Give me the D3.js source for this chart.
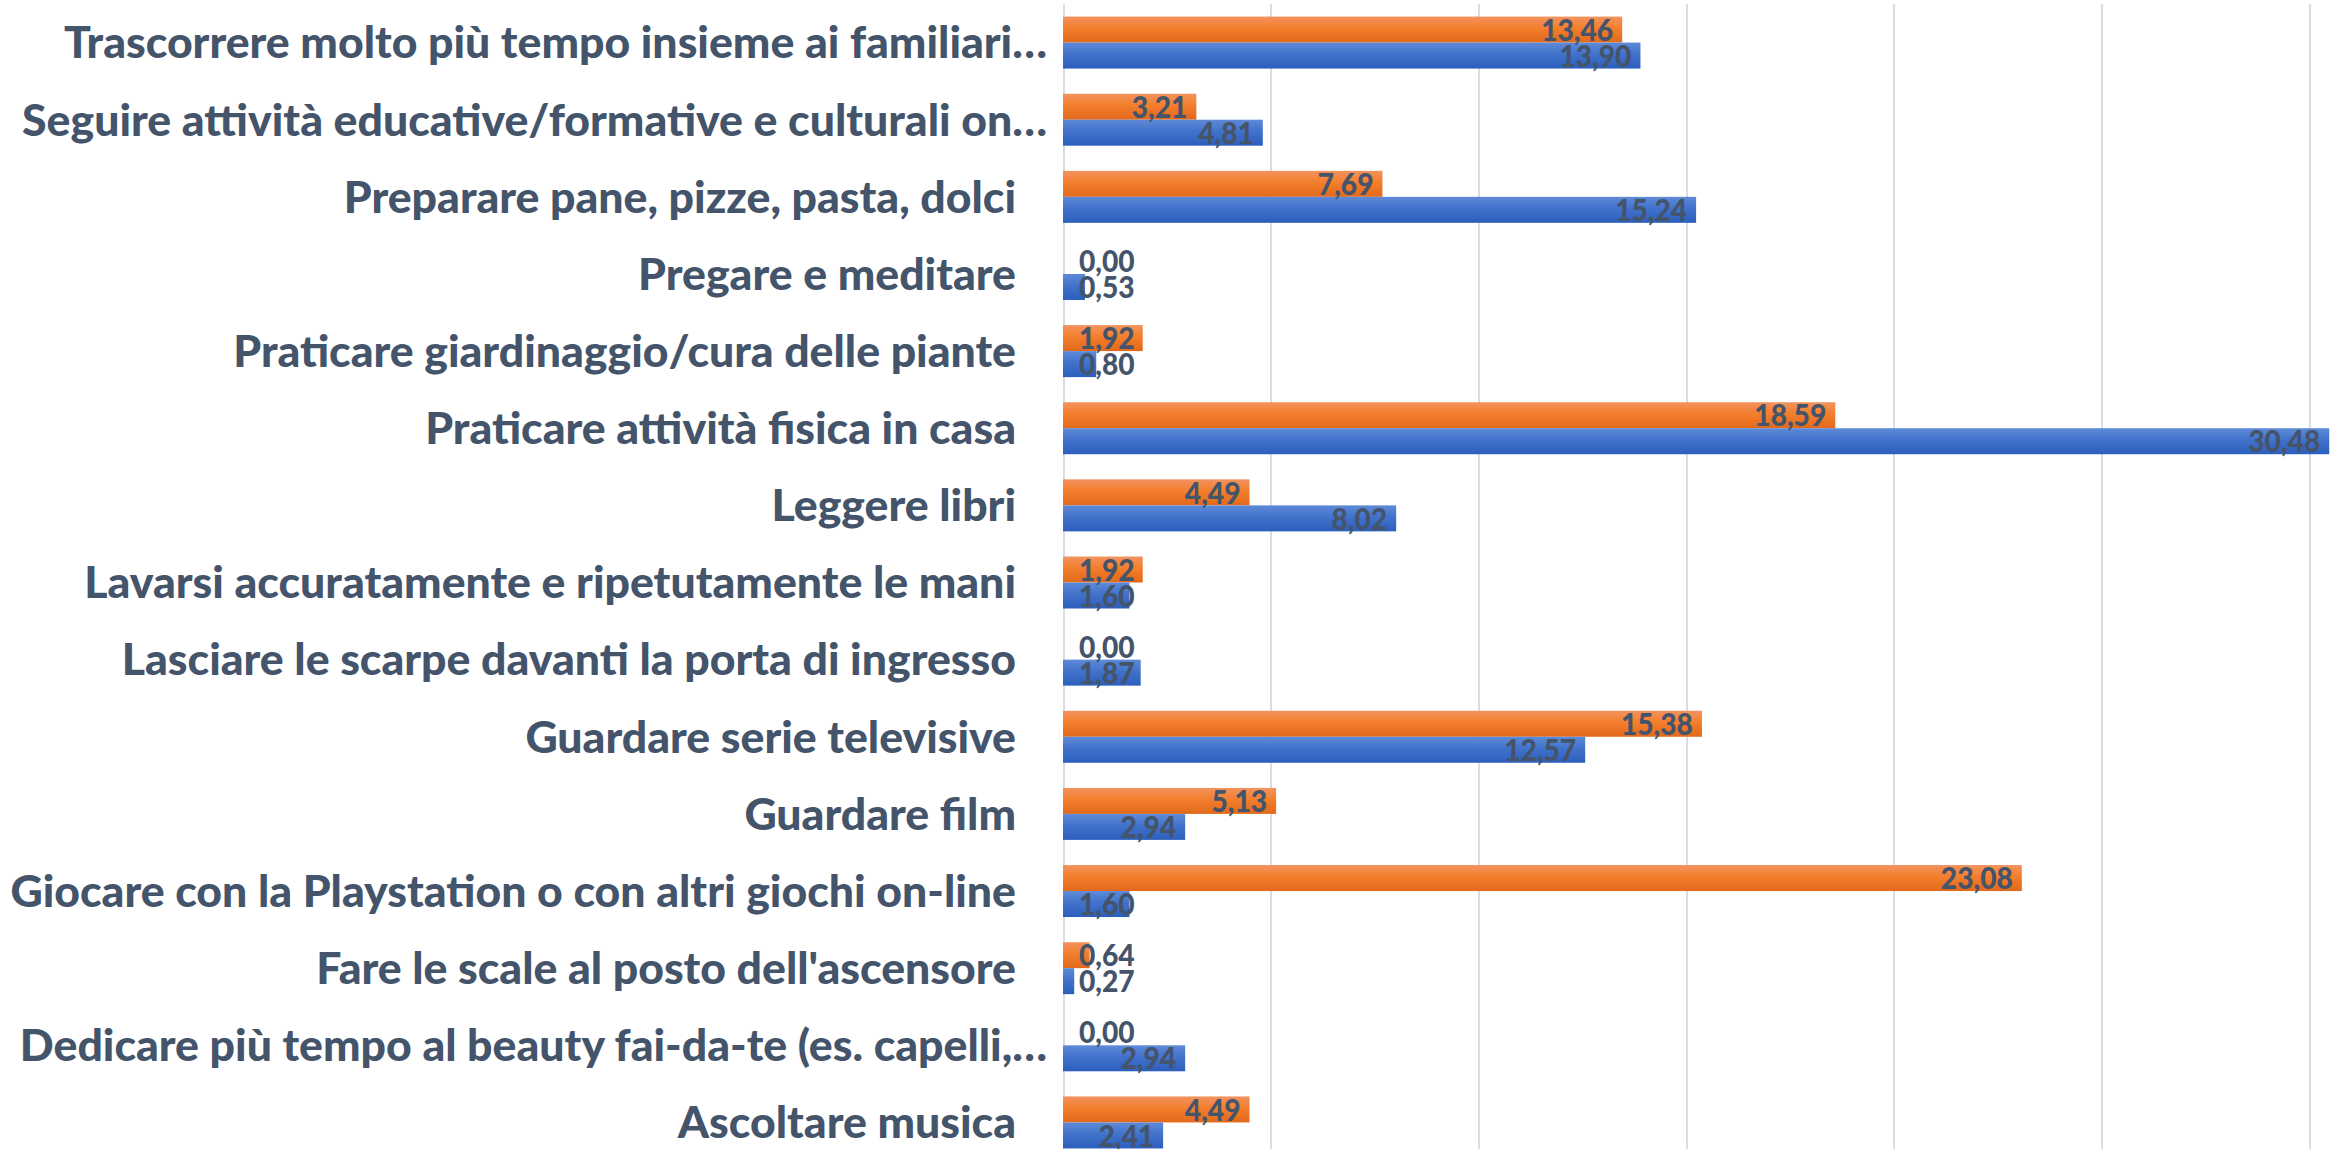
<!DOCTYPE html>
<html>
<head>
<meta charset="utf-8">
<title>Attività in casa</title>
<script src="https://cdnjs.cloudflare.com/ajax/libs/d3/7.8.5/d3.min.js"></script>
<style>
    html, body { margin: 0; padding: 0; background: #ffffff; }
    svg { display: block; }
    .cat, .val {
        font-family: Lato, "Open Sans", sans-serif;
        font-weight: 900;
        fill: #44546A;
    }
    .grid line { stroke: #D9DEE6; stroke-width: 2; shape-rendering: crispEdges; }
    .grid path { display: none; }
</style>
</head>
<body>
<div id="chart"></div>
<script>

// Categories, top to bottom as they appear in the chart
var categories = [
    "Trascorrere molto più tempo insieme ai familiari…",
    "Seguire attività educative/formative e culturali on…",
    "Preparare pane, pizze, pasta, dolci",
    "Pregare e meditare",
    "Praticare giardinaggio/cura delle piante",
    "Praticare attività fisica in casa",
    "Leggere libri",
    "Lavarsi accuratamente e ripetutamente le mani",
    "Lasciare le scarpe davanti la porta di ingresso",
    "Guardare serie televisive",
    "Guardare film",
    "Giocare con la Playstation o con altri giochi on-line",
    "Fare le scale al posto dell'ascensore",
    "Dedicare più tempo al beauty fai-da-te (es. capelli,…",
    "Ascoltare musica"
];

// Orange series (upper bar of each pair)
var orangeValues = [13.46, 3.21, 7.69, 0.00, 1.92, 18.59, 4.49, 1.92, 0.00, 15.38, 5.13, 23.08, 0.64, 0.00, 4.49];

// Blue series (lower bar of each pair)
var blueValues = [13.90, 4.81, 15.24, 0.53, 0.80, 30.48, 8.02, 1.60, 1.87, 12.57, 2.94, 1.60, 0.27, 2.94, 2.41];

var seriesKeys = ["orange", "blue"];

// Value axis gridlines (the plot runs past the right edge of the picture)
var xTicks = [0, 5, 10, 15, 20, 25, 30, 35];

(function(d3) {

    var W = 2341, H = 1149;
    var margin = {top: 4, left: 1063};
    var plotW = 1454,   // 35 units
        plotH = 1157;   // bottom is cut off, like the original

    var itFormat = d3.formatLocale({decimal: ",", thousands: ".", grouping: [3], currency: ["", "€"]}).format(".2f");

    var svg = d3.select("#chart")
        .append("svg")
            .attr("width", W)
            .attr("height", H);

    /**
     * Gradients like the Excel fills.
     */
    var defs = svg.append("defs");
    var grads = {
        orange: [["0%", "#F3935F"], ["45%", "#F37E2C"], ["100%", "#E2691B"]],
        blue: [["0%", "#5E8AD7"], ["45%", "#4172CB"], ["100%", "#2C5EBD"]]
    };
    seriesKeys.forEach(function(k) {
        var g = defs.append("linearGradient")
            .attr("id", "grad-" + k)
            .attr("x1", 0).attr("y1", 0).attr("x2", 0).attr("y2", 1);
        grads[k].forEach(function(s) {
            g.append("stop").attr("offset", s[0]).attr("stop-color", s[1]);
        });
    });

    // Scales
    var x = d3.scaleLinear().domain([0, 35]).range([margin.left, margin.left + plotW]);
    var y0 = d3.scaleBand().domain(categories)
        .range([margin.top, margin.top + plotH])
        .paddingInner(0.326).paddingOuter(0.163);
    var y1 = d3.scaleBand().domain(seriesKeys).range([0, y0.bandwidth()]);

    // Gridlines
    svg.append("g")
        .attr("class", "grid")
        .attr("transform", "translate(0," + (margin.top + plotH) + ")")
        .call(d3.axisBottom(x).tickValues(xTicks).tickSize(-plotH).tickFormat(""));

    /**
     * The fonts here are wider than Calibri, so squeeze text horizontally.
     */
    function squeeze(sample, size, target) {
        var t = svg.append("text").attr("class", "cat").style("font-size", size + "px").text(sample);
        var w = t.node().getComputedTextLength();
        t.remove();
        return target / w;
    }
    var catSize = 44, valSize = 31;
    var kCat = squeeze("Giocare con la Playstation o con altri giochi on-line", catSize, 1006);
    var kVal = squeeze("30,48", valSize, 72);

    var rows = categories.map(function(c, i) {
        return {cat: c, values: [
            {key: "orange", v: orangeValues[i]},
            {key: "blue", v: blueValues[i]}
        ]};
    });

    var groups = svg.selectAll(".row")
        .data(rows)
        .enter().append("g")
            .attr("class", "row")
            .attr("transform", function(d) { return "translate(0," + y0(d.cat) + ")"; });

    // Bars
    groups.selectAll("rect")
        .data(function(d) { return d.values; })
        .enter().append("rect")
            .attr("x", x(0))
            .attr("y", function(d) { return y1(d.key); })
            .attr("width", function(d) { return x(d.v) - x(0); })
            .attr("height", y1.bandwidth())
            .attr("fill", function(d) { return "url(#grad-" + d.key + ")"; });

    // Data labels, inside end; pushed right when the bar is too short
    groups.selectAll(".val")
        .data(function(d) { return d.values; })
        .enter().append("text")
            .attr("class", "val")
            .style("font-size", valSize + "px")
            .attr("text-anchor", "end")
            .attr("dy", "0.36em")
            .text(function(d) { return itFormat(d.v); })
            .attr("transform", function(d) {
                var w = this.getComputedTextLength() * kVal;
                var right = Math.max(x(d.v) - 9, x(0) + 16 + w);
                var cy = y1(d.key) + y1.bandwidth() / 2;
                return "translate(" + right + "," + cy + ") scale(" + kVal + ",1)";
            });

    // Category labels
    groups.append("text")
        .attr("class", "cat")
        .style("font-size", catSize + "px")
        .attr("text-anchor", "end")
        .attr("dy", "0.36em")
        .text(function(d) { return d.cat; })
        .attr("transform", function(d) {
            var cut = d.cat.slice(-1) === "…";
            var right = x(0) - (cut ? 16 : 47);
            return "translate(" + right + "," + (y0.bandwidth() / 2) + ") scale(" + kCat + ",1)";
        });

})(d3);
</script>
</body>
</html>
